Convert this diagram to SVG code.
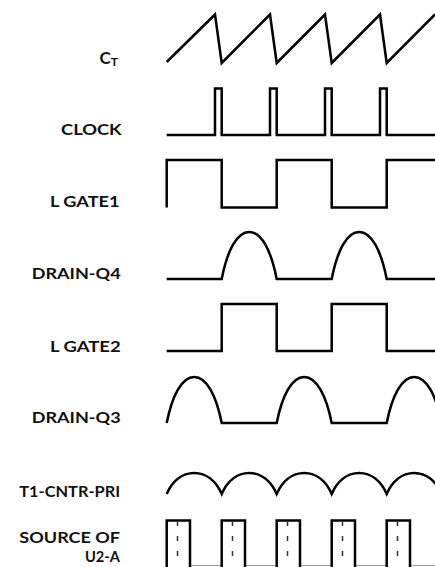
<svg xmlns="http://www.w3.org/2000/svg" width="435" height="567" viewBox="0 0 435 567">
<style>
.lbl{font-family:Lato,"Liberation Sans","DejaVu Sans",sans-serif;font-weight:bold;font-size:15.5px;fill:#111}
.w{fill:none;stroke:#000;stroke-width:2.5;stroke-linejoin:miter;stroke-miterlimit:10}
.base{fill:none;stroke:#999;stroke-width:1}
.dash{fill:none;stroke:#333;stroke-width:1.5;stroke-dasharray:5 10}
</style>
<rect width="435" height="567" fill="#fff"/>
<g id="labels">
<g id="label-ct"><text class="lbl" x="99.5" y="64" style="font-size:17px">C<tspan style="font-size:12px" dy="1.5">T</tspan></text></g>
<g id="label-clock"><text class="lbl" x="61" y="135" textLength="60.7" lengthAdjust="spacingAndGlyphs">CLOCK</text></g>
<g id="label-lgate1"><text class="lbl" x="50" y="207.3" textLength="69.5" lengthAdjust="spacingAndGlyphs">L GATE1</text></g>
<g id="label-drainq4"><text class="lbl" x="31.7" y="279" textLength="89" lengthAdjust="spacingAndGlyphs">DRAIN-Q4</text></g>
<g id="label-lgate2"><text class="lbl" x="50" y="351.5" textLength="70.7" lengthAdjust="spacingAndGlyphs">L GATE2</text></g>
<g id="label-drainq3"><text class="lbl" x="31.7" y="423" textLength="89" lengthAdjust="spacingAndGlyphs">DRAIN-Q3</text></g>
<g id="label-t1"><text class="lbl" x="19.3" y="497" textLength="100.7" lengthAdjust="spacingAndGlyphs">T1-CNTR-PRI</text></g>
<g id="label-source"><text class="lbl" x="19.3" y="542.5" textLength="100.7" lengthAdjust="spacingAndGlyphs">SOURCE OF</text><text class="lbl" x="85" y="561.5" textLength="35" lengthAdjust="spacingAndGlyphs">U2-A</text></g>
</g>
<g id="waveforms">
<g id="ct"><path class="w" d="M166.7,62 L215,14.5 L221.7,63 L270,14.5 L276.7,63 L325,14.5 L331.7,63 L380,14.5 L386.7,63 L435,14.5"/></g>
<g id="clock"><path class="w" d="M166.7,135 H215 V88.5 H221.7 V135 H270 V88.5 H276.7 V135 H325 V88.5 H331.7 V135 H380 V88.5 H386.7 V135 H435"/></g>
<g id="lgate1"><path class="w" d="M166.7,207.5 V160 H221.7 V207.5 H276.7 V160 H331.7 V207.5 H386.7 V160 H435"/></g>
<g id="drainq4"><path class="w" d="M166.7,279 H221.7 C227.2,250.8 236.83,232 249.2,232 C261.57,232 271.2,250.8 276.7,279 H331.7 C337.2,250.8 346.83,232 359.2,232 C371.57,232 381.2,250.8 386.7,279 H435"/></g>
<g id="lgate2"><path class="w" d="M166.7,351 H221.7 V304 H276.7 V351 H331.7 V304 H386.7 V351 H435"/></g>
<g id="drainq3"><path class="w" d="M166.7,423 C172.2,395.4 181.83,377 194.2,377 C206.57,377 216.2,395.4 221.7,423 H276.7 C282.2,395.4 291.83,377 304.2,377 C316.57,377 326.2,395.4 331.7,423 H386.7 C392.2,395.4 401.83,377 414.2,377 C426.57,377 436.2,395.4 441.7,423"/></g>
<g id="t1cntr"><path class="w" d="M166.7,494 C172.2,481.5 181.83,473 194.2,473 C206.57,473 216.2,481.5 221.7,494 C227.2,481.5 236.83,473 249.2,473 C261.57,473 271.2,481.5 276.7,494 C282.2,481.5 291.83,473 304.2,473 C316.57,473 326.2,481.5 331.7,494 C337.2,481.5 346.83,473 359.2,473 C371.57,473 381.2,481.5 386.7,494 C392.2,481.5 401.83,473 414.2,473 C426.57,473 436.2,481.5 441.7,494"/></g>
<g id="source">
<path class="base" d="M190,565.5 H221.7 M245,565.5 H276.7 M300,565.5 H331.7 M355,565.5 H386.7 M410,565.5 H435"/>
<path class="w" d="M166.7,567 V520.5 H190 V567 M221.7,567 V520.5 H245 V567 M276.7,567 V520.5 H300 V567 M331.7,567 V520.5 H355 V567 M386.7,567 V520.5 H410 V567"/>
<path class="dash" d="M177.5,521 V556 M232.5,521 V556 M287.5,521 V556 M342.5,521 V556 M397.5,521 V556"/>
</g>
</g>
</svg>
